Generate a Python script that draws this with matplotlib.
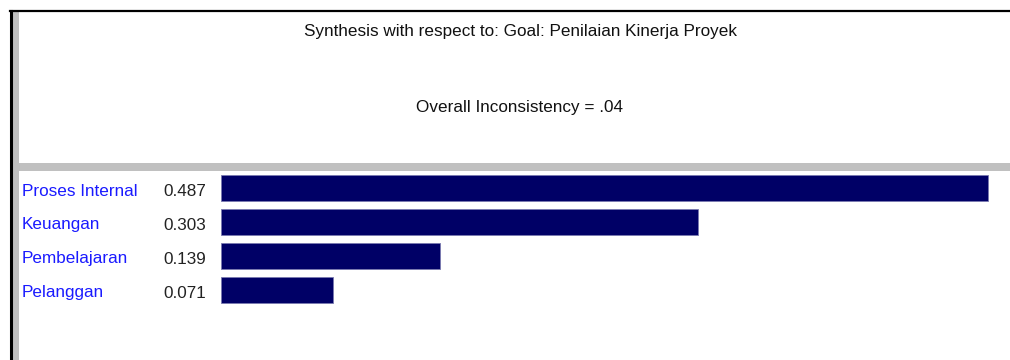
import matplotlib.pyplot as plt
from matplotlib.lines import Line2D
from matplotlib.patches import Rectangle
from matplotlib.transforms import ScaledTranslation

# data read from the synthesis window
categories = ["Proses Internal", "Keuangan", "Pembelajaran", "Pelanggan"]
weights = [0.487, 0.303, 0.139, 0.071]
title = "Synthesis with respect to: Goal: Penilaian Kinerja Proyek"
inconsistency = "Overall Inconsistency = .04"

plt.rcParams['font.family'] = ['Liberation Sans', 'DejaVu Sans']

W, H = 1010, 360
fig = plt.figure(figsize=(W / 100, H / 100), dpi=100)

# frame decorations in pixel coordinates
bg = fig.add_axes([0, 0, 1, 1])
bg.set_xlim(0, W)
bg.set_ylim(H, 0)
bg.axis("off")
bg.add_patch(Rectangle((13, 12), 6, H - 12, color="#c0c0c0", lw=0))
bg.add_patch(Rectangle((19, 163), W - 19, 8, color="#c0c0c0", lw=0))
bg.add_line(Line2D([10, W], [11, 11], color="black", lw=1.6))
bg.add_line(Line2D([11, 11], [11, H], color="black", lw=2.2))
bg.text(520, 36, title, ha="center", va="baseline", fontsize=12.3, color="#111111")
bg.text(520, 112, inconsistency, ha="center", va="baseline", fontsize=12.3, color="#111111")

# bar area: 0.5 priority units span 787.5 px, rows 34 px apart
left_px, right_px = 221, 221 + 787.5
top_px, bot_px = 171, 307
ax = fig.add_axes([left_px / W, (H - bot_px) / H,
                   (right_px - left_px) / W, (bot_px - top_px) / H])
ypos = list(range(len(categories)))
ax.barh(ypos, weights, height=0.76, color="#000066", edgecolor="#7a7ab0", lw=0.6)
ax.set_xlim(0, 0.5)
ax.set_ylim(len(categories) - 0.5, -0.5)
ax.axis("off")

# labels sit on a baseline a few pixels below each bar centre
trans = ax.get_yaxis_transform() + ScaledTranslation(0, -0.075, fig.dpi_scale_trans)
for i, (c, w) in enumerate(zip(categories, weights)):
    ax.text((22 - left_px) / (right_px - left_px), i, c, transform=trans,
            ha="left", va="baseline", fontsize=12.3, color="#1a1aff", clip_on=False)
    ax.text((163 - left_px) / (right_px - left_px), i, f"{w:.3f}", transform=trans,
            ha="left", va="baseline", fontsize=12.3, color="#222222", clip_on=False)

fig.savefig("out.png", dpi=100, facecolor="white")
